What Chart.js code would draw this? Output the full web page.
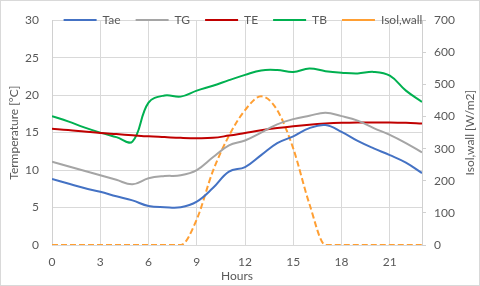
<!DOCTYPE html>
<html>
<head>
<meta charset="utf-8">
<script src="https://cdn.jsdelivr.net/npm/chart.js@4/dist/chart.umd.min.js"></script>
<style>
  html, body { margin: 0; padding: 0; background: #fff; }
  #box { width: 480px; height: 286px; }
</style>
</head>
<body>
<div id="box"><canvas id="myChart"></canvas></div>
<script>
// hours of the day
const hours = [0, 1, 2, 3, 4, 5, 6, 7, 8, 9, 10, 11, 12, 13, 14, 15, 16, 17, 18, 19, 20, 21, 22, 23];
const hourTicks = [0, 3, 6, 9, 12, 15, 18, 21];

// temperatures [°C]
const tae = [8.8, 8.2, 7.6, 7.1, 6.5, 5.95, 5.2, 5.05, 5.05, 5.8, 7.6, 9.8, 10.4, 12.0, 13.6, 14.5, 15.6, 16.0, 15.1, 13.9, 12.9, 12.0, 11.0, 9.6];
const tg = [11.1, 10.5, 9.9, 9.3, 8.7, 8.1, 8.9, 9.2, 9.3, 10.0, 11.7, 13.3, 13.95, 15.0, 16.1, 16.8, 17.25, 17.65, 17.2, 16.6, 15.6, 14.7, 13.6, 12.35];
const te = [15.5, 15.35, 15.15, 14.95, 14.8, 14.65, 14.5, 14.4, 14.3, 14.25, 14.3, 14.6, 14.95, 15.3, 15.6, 15.85, 16.05, 16.2, 16.3, 16.35, 16.35, 16.35, 16.3, 16.2];
const tb = [17.2, 16.5, 15.7, 15.0, 14.4, 13.8, 19.0, 19.95, 19.8, 20.6, 21.25, 22.0, 22.7, 23.3, 23.35, 23.1, 23.55, 23.2, 23.0, 22.9, 23.1, 22.6, 20.6, 19.1];

// solar radiation on the wall [W/m2]
const isol = [0, 0, 0, 0, 0, 0, 0, 0, 0, 80, 230, 340, 420, 463, 420, 300, 128, 0, 0, 0, 0, 0, 0, 0];

const seriesNames = ["Tae", "TG", "TE", "TB", "Isol,wall"];
const leftTitle = "Termperature [°C]";
const rightTitle = "Isol,wall [W/m2]";
const xTitle = "Hours";

const textColor = "#595959";
const gridColor = "#d9d9d9";
const fontFam = "Lato, 'Liberation Sans', sans-serif";

Chart.defaults.font.family = fontFam;
Chart.defaults.font.size = 12;
Chart.defaults.color = textColor;

// keep the legend inside the plot, like the original
const legendInside = {
    id: "legendInside",
    beforeLayout: function(chart) {
        var lg = chart.legend;
        if (lg && !lg._patched) {
            var fit = lg.fit;
            lg.fit = function() {
                fit.call(this);
                this.height = 14;
            };
            lg._patched = true;
        }
    },
    afterLayout: function(chart) {
        var lg = chart.legend;
        if (lg) {
            lg.top = -1;
            lg.bottom = 34;
            lg.height = 35;
            lg.left += 3;
            lg.right += 3;
        }
    },
    afterDraw: function(chart) {
        var ctx = chart.ctx;
        var area = chart.chartArea;
        ctx.save();
        ctx.strokeStyle = gridColor;
        ctx.lineWidth = 1;
        ctx.strokeRect(0.5, 0.5, chart.width - 1, chart.height - 1);
        // right axis title reads bottom to top
        ctx.translate(chart.width - 9.5, (area.top + area.bottom) / 2);
        ctx.rotate(-Math.PI / 2);
        ctx.font = "12px " + fontFam;
        ctx.fillStyle = textColor;
        ctx.textAlign = "center";
        ctx.textBaseline = "middle";
        ctx.fillText(rightTitle, 0, 0);
        ctx.restore();
    }
};

function line(label, data, color, axis) {
    return {
        label: label,
        data: data,
        borderColor: color,
        backgroundColor: color,
        borderWidth: 2,
        pointRadius: 0,
        tension: 0.4,
        fill: false,
        yAxisID: axis
    };
}

const sets = [
    line(seriesNames[0], tae, "#4472C4", "y"),
    line(seriesNames[1], tg, "#A5A5A5", "y"),
    line(seriesNames[2], te, "#C00000", "y"),
    line(seriesNames[3], tb, "#00B050", "y"),
    line(seriesNames[4], isol, "#FF9F33", "y1")
];
sets[4].borderDash = [6, 3];
sets[4].cubicInterpolationMode = "monotone";

new Chart("myChart", {
    type: "line",
    data: {
        labels: hours,
        datasets: sets
    },
    options: {
        responsive: true,
        maintainAspectRatio: false,
        animation: false,
        layout: { padding: 0 },
        plugins: {
            legend: {
                position: "top",
                labels: {
                    usePointStyle: true,
                    pointStyle: "line",
                    pointStyleWidth: 33,
                    padding: 15,
                    color: textColor
                }
            },
            tooltip: { enabled: false }
        },
        scales: {
            x: {
                type: "linear",
                min: 0,
                max: 23,
                afterFit: function(s) { s.height = 41; },
                afterBuildTicks: function(s) {
                    s.ticks = hourTicks.map(function(v) { return {value: v}; });
                },
                ticks: { padding: 10, maxRotation: 0, autoSkip: false, color: textColor },
                grid: { color: gridColor, drawTicks: false },
                border: { color: gridColor },
                title: { display: true, text: xTitle, color: textColor, padding: {top: 0, bottom: 3} }
            },
            y: {
                position: "left",
                min: 0,
                max: 30,
                afterFit: function(s) { s.width = 52; },
                ticks: { stepSize: 5, padding: 13, color: textColor },
                grid: { color: gridColor, drawTicks: false },
                border: { color: "#d0d0d0" },
                title: { display: true, text: leftTitle, color: textColor, padding: {top: 6.6, bottom: 0} }
            },
            y1: {
                position: "right",
                min: 0,
                max: 700,
                afterFit: function(s) { s.width = 58; },
                ticks: { stepSize: 100, padding: 8, color: textColor },
                grid: { display: true, drawOnChartArea: false, drawTicks: true, tickLength: 4, color: "#d0d0d0" },
                border: { color: "#d0d0d0" }
            }
        }
    },
    plugins: [legendInside]
});
</script>
</body>
</html>
